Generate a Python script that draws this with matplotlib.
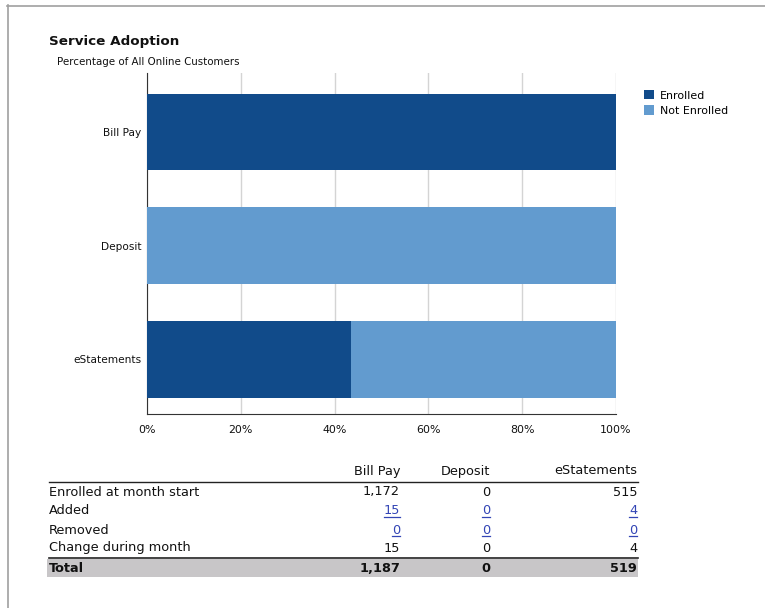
import matplotlib
matplotlib.use("Agg")
import matplotlib.pyplot as plt
from matplotlib.patches import Rectangle
from matplotlib.lines import Line2D

# ---- data ----
services = ["Bill Pay", "Deposit", "eStatements"]
enrolled_pct = [100.0, 0.0, 43.5]
not_enrolled_pct = [0.0, 100.0, 56.5]
x_ticks = [0, 20, 40, 60, 80, 100]
x_tick_labels = ["0%", "20%", "40%", "60%", "80%", "100%"]

row_labels = ["Enrolled at month start", "Added", "Removed", "Change during month"]
col_headers = ["Bill Pay", "Deposit", "eStatements"]
start_vals = ["1,172", "0", "515"]
added_vals = ["15", "0", "4"]
removed_vals = ["0", "0", "0"]
change_vals = ["15", "0", "4"]
total_vals = ["1,187", "0", "519"]

DARK = "#114B8A"
LIGHT = "#629BCF"
LINK = "#3345B5"

W, H = 765, 608
fig = plt.figure(figsize=(W / 100, H / 100), dpi=100)
plt.rcParams['font.family'] = ['DejaVu Sans']

def fx(px):
    return px / W

def fy(py):
    return 1 - py / H

# border lines (top and left)
fig.add_artist(Line2D([fx(7), 1], [fy(5.5), fy(5.5)], color="#A0A0A0", lw=1.2))
fig.add_artist(Line2D([fx(7.5), fx(7.5)], [fy(5), 0], color="#A0A0A0", lw=1.2))

# titles
fig.text(fx(49), fy(42), "Service Adoption", fontsize=9.7, fontweight="bold",
         va="center", ha="left", color="#111111")
fig.text(fx(57), fy(62), "Percentage of All Online Customers", fontsize=7.4,
         va="center", ha="left", color="#111111")

# chart axes
ax_l, ax_r, ax_t, ax_b = 147, 616, 73, 414
ax = fig.add_axes([fx(ax_l), fy(ax_b), (ax_r - ax_l) / W, (ax_b - ax_t) / H])
ypos = list(range(len(services)))[::-1]
ax.barh(ypos, enrolled_pct, height=0.675, color=DARK, label="Enrolled", zorder=3)
ax.barh(ypos, not_enrolled_pct, left=enrolled_pct, height=0.675, color=LIGHT,
        label="Not Enrolled", zorder=3)
ax.set_xlim(0, 100)
ax.set_ylim(-0.482, 2.518)
ax.set_xticks(x_ticks)
ax.set_xticklabels(x_tick_labels, fontsize=7.9, color="#111111")
ax.set_yticks(ypos)
ax.set_yticklabels(services, fontsize=7.6, color="#111111")
ax.tick_params(length=0, pad=8)
ax.tick_params(axis="y", pad=4)
ax.grid(axis="x", color="#D4D4D4", lw=1, zorder=0)
for s in ["top", "right"]:
    ax.spines[s].set_visible(False)
ax.spines["left"].set_color("#333333")
ax.spines["bottom"].set_color("#333333")

leg = fig.legend(loc="upper left", bbox_to_anchor=(fx(644), fy(90)), frameon=False,
                 fontsize=7.9, handlelength=0.95, handleheight=0.95, handletextpad=0.5,
                 labelspacing=0.45, borderaxespad=0, borderpad=0)

# ---- table ----
col_x = [400, 490, 637]
left_x = 49
fs = 9.3
for i, h in enumerate(col_headers):
    fig.text(fx(col_x[i]), fy(471), h, fontsize=fs, ha="right", va="center", color="#111111")
fig.add_artist(Line2D([fx(49), fx(638)], [fy(482), fy(482)], color="#222222", lw=1))

row_y = [492, 511, 530, 548]
rows = [start_vals, added_vals, removed_vals, change_vals]
links = [False, True, True, False]
link_texts = []
for ry, lab, vals, lk in zip(row_y, row_labels, rows, links):
    fig.text(fx(left_x), fy(ry), lab, fontsize=fs, ha="left", va="center", color="#111111")
    for i, v in enumerate(vals):
        t = fig.text(fx(col_x[i]), fy(ry), v, fontsize=fs, ha="right", va="center",
                     color=LINK if lk else "#111111")
        if lk:
            link_texts.append((t, ry))

fig.add_artist(Line2D([fx(49), fx(638)], [fy(558), fy(558)], color="#222222", lw=1.2))
fig.add_artist(Rectangle((fx(47), fy(577)), (638 - 47) / W, (577 - 559) / H,
                         facecolor="#C8C6C8", edgecolor="none", zorder=0))
fig.text(fx(left_x), fy(568), "Total", fontsize=fs, ha="left", va="center",
         fontweight="bold", color="#111111")
for i, v in enumerate(total_vals):
    fig.text(fx(col_x[i]), fy(568), v, fontsize=fs, ha="right", va="center",
             fontweight="bold", color="#111111")

# underline links
fig.canvas.draw()
r = fig.canvas.get_renderer()
for t, ry in link_texts:
    bb = t.get_window_extent(r)
    uy = fy(ry + 6)
    fig.add_artist(Line2D([bb.x0 / W, bb.x1 / W], [uy, uy], color=LINK, lw=0.9))

fig.savefig("out.png", dpi=100)
